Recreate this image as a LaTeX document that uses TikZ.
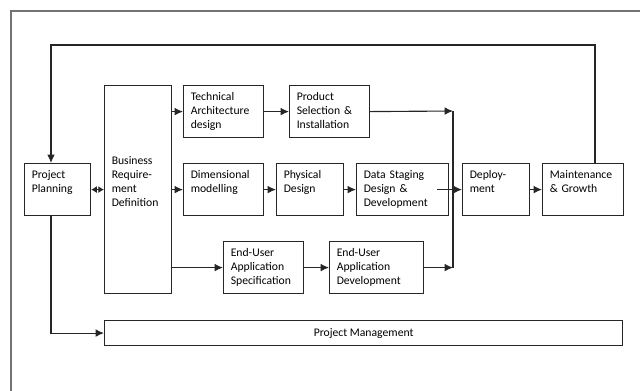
\documentclass[tikz,border=0pt]{standalone}
\usepackage{fontspec}
\setmainfont{Carlito}
\usetikzlibrary{shapes,positioning,arrows.meta}
\tikzset{>={Latex[length=6pt,width=5.5pt]}}
\colorlet{penColor}{black!85}
\colorlet{frameColor}{black!55}
\hyphenpenalty=10000
\tikzset{
  stage/.style={draw=penColor, line width=0.8pt, rectangle, anchor=north west, align=left,
    inner xsep=0.18cm, inner ysep=3pt, text height=7.5pt, text depth=23.5pt,
    font=\fontsize{8.3}{9.9}\selectfont},
  tallstage/.style={stage, text height=53pt, text depth=89pt},
  bar/.style={draw=penColor, line width=0.8pt, rectangle, anchor=north west, inner sep=0pt,
    minimum width=12.95cm, minimum height=0.625cm, font=\fontsize{8.3}{9.9}\selectfont},
  link/.style={draw=penColor, line width=0.8pt, ->},
  frame/.style={draw=frameColor, line width=1pt}
}
\begin{document}
\begin{tikzpicture}[x=0.025cm,y=-0.025cm]
\useasboundingbox (0,0) rectangle (640,390);
% outer frame
\draw[frame] (11,392) -- (11,11) -- (642,11);

\node[stage, text width=1.29cm] (pp) at (24,163) {Project\\Planning};
\node[tallstage, text width=1.315cm] (brd) at (104,85) {Business\\Require-\\ment\\Definition};
\node[stage, text width=1.64cm] (ta) at (183,85) {Technical\\Architecture\\design};
\node[stage, text width=1.64cm] (ps) at (289,85) {Product\\Selection \&\\Installation};
\node[stage, text width=1.64cm] (dim) at (183,163) {Dimensional\\modelling};
\node[stage, text width=1.315cm] (phy) at (276,163) {Physical\\Design};
\node[stage, text width=1.94cm] (dsd) at (356,163) {Data Staging\\Design \&\\Development};
\node[stage, text width=1.315cm] (dep) at (462,163) {Deploy-\\ment};
\node[stage, text width=1.665cm] (mg) at (542,163) {Maintenance\\\& Growth};
\node[stage, text width=1.64cm] (euas) at (223,241) {End-User\\Application\\Specification};
\node[stage, text width=1.99cm] (euad) at (329,241) {End-User\\Application\\Development};
\node[bar] (pm) at (104,320) {Project Management};

\coordinate (mTop) at (453,111);
\coordinate (mBot) at (mTop |- euad.east);
\coordinate (fbR) at (595,45);
\coordinate (fbL) at (51,45);

% connectors
\draw[link, {Latex[length=4pt,width=5pt]}-{Latex[length=4pt,width=5pt]}] (pp.east) -- (pp.east -| brd.west);
\draw[link] (ta.west -| brd.east) -- (ta.west);
\draw[link] (ta) -- (ps);
\draw[link] (ps.east) -- (mTop);
\draw[link, -] (mTop) -- (mBot);
\draw[link] (dim.west -| brd.east) -- (dim.west);
\draw[link] (dim) -- (phy);
\draw[link] (phy) -- (dsd);
\draw[link] ([xshift=-0.3cm]dsd.east) -- (dep.west);
\draw[link] (dep) -- (mg);
\draw[link] (euas.west -| brd.east) -- (euas.west);
\draw[link] (euas) -- (euad);
\draw[link] (euad.east) -- (mBot);
% feedback loop
\draw[link] (fbR |- mg.north) -- (fbR) -- (fbL) -- (fbL |- pp.north);
\draw[link] (fbL |- pp.south) |- (pm.west);
\end{tikzpicture}
\end{document}
